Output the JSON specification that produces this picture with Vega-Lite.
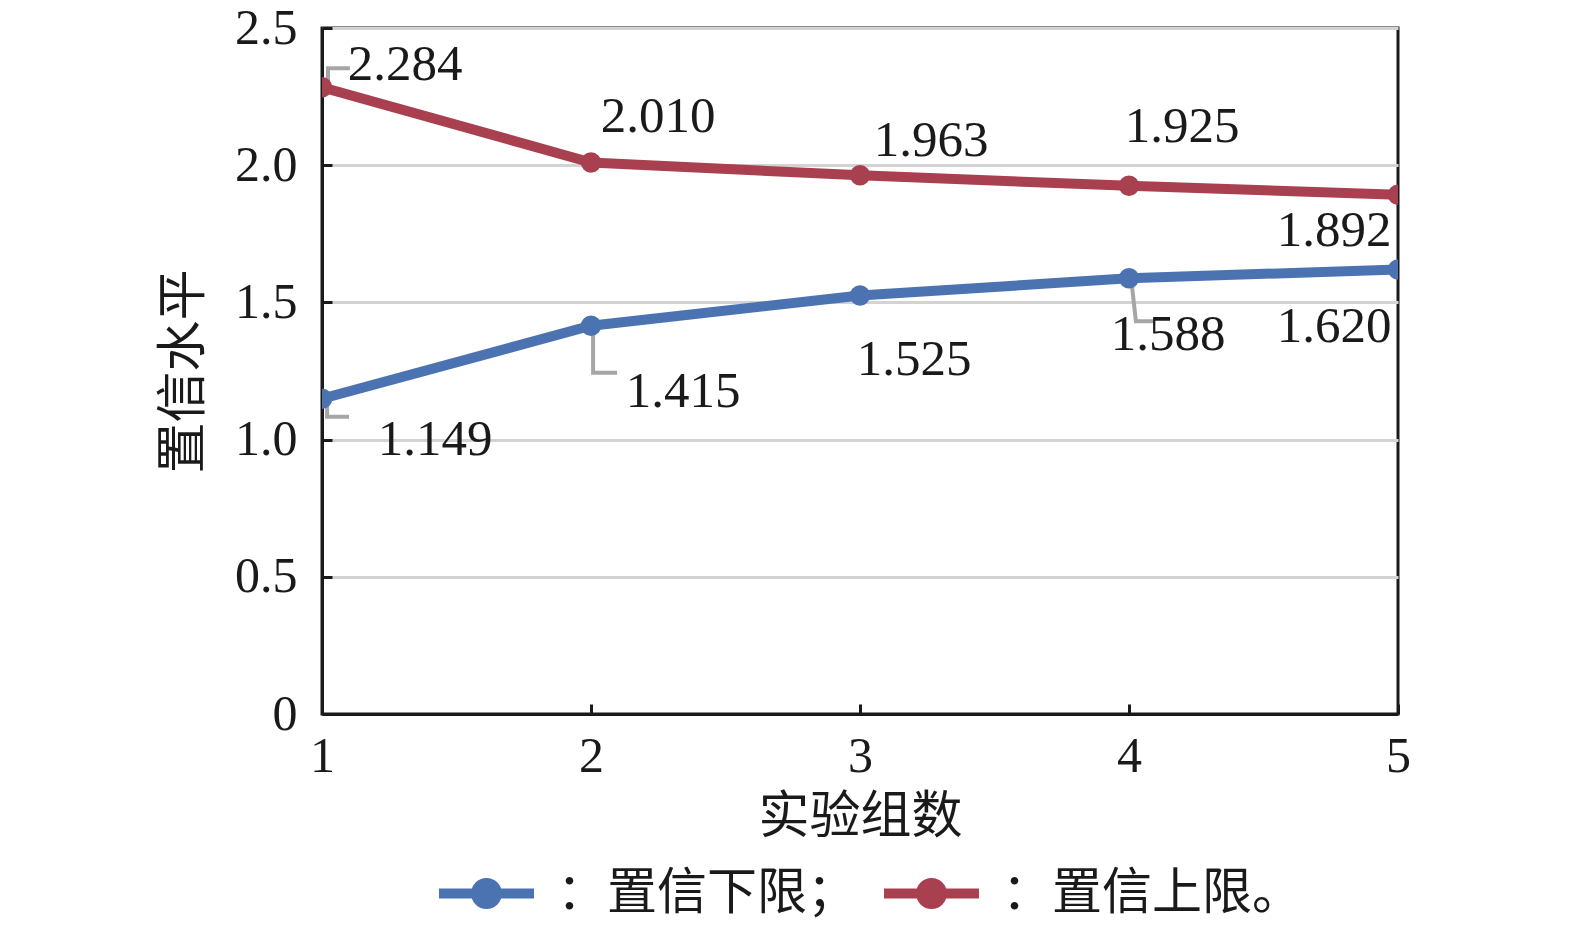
{
  "$schema": "https://vega.github.io/schema/vega-lite/v6.json",
  "autosize": "none",
  "width": 1076,
  "height": 686,
  "padding": {"left": 322, "top": 28, "right": 177, "bottom": 213},
  "background": "white",
  "config": {
    "view": {"stroke": "#1a1a1a", "strokeWidth": 3},
    "axis": {
      "labelFont": "Liberation Serif",
      "labelFontSize": 50,
      "labelColor": "#1a1a1a",
      "titleFont": "Noto Sans CJK SC",
      "titleFontSize": 51,
      "titleFontWeight": "normal",
      "titleColor": "#1a1a1a",
      "domainColor": "#1a1a1a",
      "domainWidth": 3,
      "tickColor": "#1a1a1a",
      "tickWidth": 3,
      "tickSize": -10
    },
    "legend": {
      "labelFont": "Noto Sans CJK SC",
      "labelFontSize": 50,
      "labelColor": "#1a1a1a",
      "labelLimit": 0
    }
  },
  "data": {
    "values": [
      {"group": 1, "value": 1.149, "series": "置信下限", "label": "1.149"},
      {"group": 2, "value": 1.415, "series": "置信下限", "label": "1.415"},
      {"group": 3, "value": 1.525, "series": "置信下限", "label": "1.525"},
      {"group": 4, "value": 1.588, "series": "置信下限", "label": "1.588"},
      {"group": 5, "value": 1.620, "series": "置信下限", "label": "1.620"},
      {"group": 1, "value": 2.284, "series": "置信上限", "label": "2.284"},
      {"group": 2, "value": 2.010, "series": "置信上限", "label": "2.010"},
      {"group": 3, "value": 1.963, "series": "置信上限", "label": "1.963"},
      {"group": 4, "value": 1.925, "series": "置信上限", "label": "1.925"},
      {"group": 5, "value": 1.892, "series": "置信上限", "label": "1.892"}
    ]
  },
  "encoding": {
    "x": {
      "field": "group", "type": "quantitative",
      "scale": {"domain": [1, 5], "nice": false, "zero": false},
      "axis": {"values": [1, 2, 3, 4, 5], "format": "d", "grid": false, "title": "实验组数", "labelFlush": false, "labelPadding": 27, "titlePadding": 11}
    },
    "y": {
      "field": "value", "type": "quantitative",
      "scale": {"domain": [0, 2.5], "nice": false},
      "axis": {
        "values": [0, 0.5, 1, 1.5, 2, 2.5],
        "labelExpr": "datum.value == 0 ? '0' : format(datum.value, '.1f')",
        "grid": true, "gridColor": "#d3d3d3", "gridWidth": 3,
        "title": "置信水平", "labelPadding": 35, "titlePadding": 24
      }
    }
  },
  "layer": [
    {"transform": [{"filter": "datum.label == '2.284'"}], "mark": {"type": "point", "shape": "M 0.2 0 V -0.63 H 0.93", "filled": false, "stroke": "#a6a6a6", "strokeWidth": 4, "size": 3600, "opacity": 1}},
    {"transform": [{"filter": "datum.label == '1.149'"}], "mark": {"type": "point", "shape": "M 0.17 0 V 0.6 H 0.9", "filled": false, "stroke": "#a6a6a6", "strokeWidth": 4, "size": 3600, "opacity": 1}},
    {"transform": [{"filter": "datum.label == '1.415'"}], "mark": {"type": "point", "shape": "M 0.07 0 V 1.57 H 0.87", "filled": false, "stroke": "#a6a6a6", "strokeWidth": 4, "size": 3600, "opacity": 1}},
    {"transform": [{"filter": "datum.label == '1.588'"}], "mark": {"type": "point", "shape": "M 0.07 0 L 0.23 1.43 H 0.83", "filled": false, "stroke": "#a6a6a6", "strokeWidth": 4, "size": 3600, "opacity": 1}},
    {
      "mark": {"type": "line", "strokeWidth": 10, "clip": true, "point": {"filled": true, "size": 420}},
      "encoding": {
        "color": {
          "field": "series", "type": "nominal",
          "scale": {"domain": ["置信下限", "置信上限"], "range": ["#4c73b1", "#a9404f"]},
          "legend": {
            "title": null,
            "orient": "none",
            "direction": "horizontal",
            "legendX": 112,
            "legendY": 813,
            "labelExpr": "datum.label == '置信下限' ? '：置信下限；' : '：置信上限。'",
            "symbolType": "M -1 0 H 1 M 0.22 0 A 0.22 0.22 0 1 1 -0.22 0 A 0.22 0.22 0 1 1 0.22 0 Z",
            "symbolSize": 9025,
            "symbolStrokeWidth": 10,
            "labelOffset": 18,
            "columnPadding": 7,
            "encode": {"symbols": {"update": {"fill": {"scale": "color", "field": "value"}, "stroke": {"scale": "color", "field": "value"}, "fillOpacity": {"value": 1}}}}
          }
        }
      }
    },
    {"transform": [{"filter": "datum.label == '2.284'"}], "mark": {"type": "text", "font": "Liberation Serif", "fontSize": 51, "color": "#1a1a1a", "dx": 83, "dy": -22}, "encoding": {"text": {"field": "label"}}},
    {"transform": [{"filter": "datum.label == '2.010'"}], "mark": {"type": "text", "font": "Liberation Serif", "fontSize": 51, "color": "#1a1a1a", "dx": 67, "dy": -45}, "encoding": {"text": {"field": "label"}}},
    {"transform": [{"filter": "datum.label == '1.963'"}], "mark": {"type": "text", "font": "Liberation Serif", "fontSize": 51, "color": "#1a1a1a", "dx": 71, "dy": -34}, "encoding": {"text": {"field": "label"}}},
    {"transform": [{"filter": "datum.label == '1.925'"}], "mark": {"type": "text", "font": "Liberation Serif", "fontSize": 51, "color": "#1a1a1a", "dx": 53, "dy": -59}, "encoding": {"text": {"field": "label"}}},
    {"transform": [{"filter": "datum.label == '1.892'"}], "mark": {"type": "text", "font": "Liberation Serif", "fontSize": 51, "color": "#1a1a1a", "dx": -64, "dy": 36}, "encoding": {"text": {"field": "label"}}},
    {"transform": [{"filter": "datum.label == '1.149'"}], "mark": {"type": "text", "font": "Liberation Serif", "fontSize": 51, "color": "#1a1a1a", "dx": 113, "dy": 41}, "encoding": {"text": {"field": "label"}}},
    {"transform": [{"filter": "datum.label == '1.415'"}], "mark": {"type": "text", "font": "Liberation Serif", "fontSize": 51, "color": "#1a1a1a", "dx": 92, "dy": 66}, "encoding": {"text": {"field": "label"}}},
    {"transform": [{"filter": "datum.label == '1.525'"}], "mark": {"type": "text", "font": "Liberation Serif", "fontSize": 51, "color": "#1a1a1a", "dx": 54, "dy": 64}, "encoding": {"text": {"field": "label"}}},
    {"transform": [{"filter": "datum.label == '1.588'"}], "mark": {"type": "text", "font": "Liberation Serif", "fontSize": 51, "color": "#1a1a1a", "dx": 39, "dy": 57}, "encoding": {"text": {"field": "label"}}},
    {"transform": [{"filter": "datum.label == '1.620'"}], "mark": {"type": "text", "font": "Liberation Serif", "fontSize": 51, "color": "#1a1a1a", "dx": -64, "dy": 58}, "encoding": {"text": {"field": "label"}}}
  ]
}
